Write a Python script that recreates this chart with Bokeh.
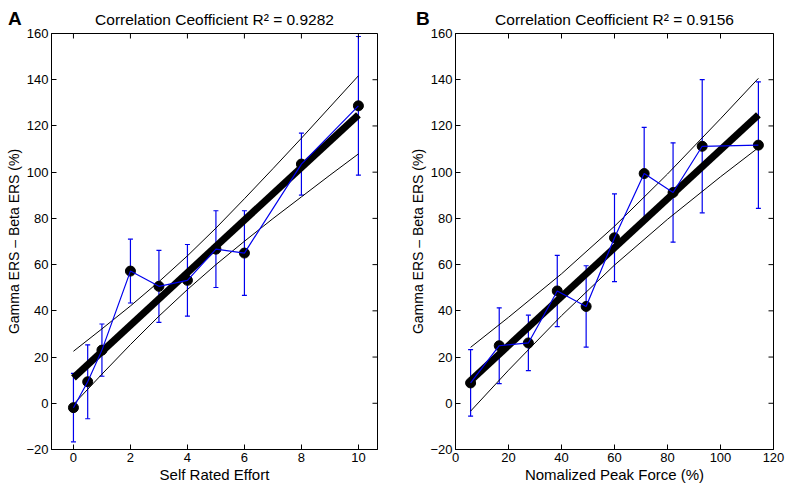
import math
from bokeh.plotting import figure
from bokeh.layouts import row
from bokeh.models import (FixedTicker, Range1d, Whisker, ColumnDataSource, TeeHead, Div)
from bokeh.embed import file_html
from bokeh.resources import INLINE

# ---------------- Panel A data ----------------
effort = [0, 0.5, 1, 2, 3, 4, 5, 6, 8, 10]
ers_a = [-1.9, 9.3, 23.0, 57.2, 50.6, 53.2, 66.7, 65.0, 103.5, 128.7]
err_a = [14.8, 16.0, 11.3, 13.8, 15.6, 15.5, 16.6, 18.3, 13.4, 30.0]
fit_a_x = [0, 10]
fit_a_y = [11.0, 124.8]
band_a_x = [0, 1, 2, 3, 4, 5, 6, 7, 8, 9, 10]
band_a_up = [22.5, 32.2, 42.1, 52.6, 63.8, 75.8, 88.5, 101.5, 114.7, 128.2, 141.7]
band_a_lo = [-0.5, 12.6, 25.4, 37.7, 49.2, 60.0, 70.1, 79.9, 89.3, 98.7, 107.9]
xticks_a = [0, 2, 4, 6, 8, 10]

# ---------------- Panel B data ----------------
force = [5.7, 16.5, 27.5, 38.4, 49.3, 60.0, 71.2, 82.1, 93.1, 114.3]
ers_b = [8.8, 24.9, 26.1, 48.6, 41.9, 71.6, 99.4, 91.2, 111.2, 111.7]
err_b = [14.4, 16.4, 12.0, 15.4, 17.6, 19.0, 20.0, 21.5, 28.8, 27.4]
fit_b_x = [5.7, 114.3]
fit_b_y = [9.8, 124.8]
band_b_x = [5.7, 20, 40, 60, 80, 100, 114.3]
band_b_up = [24.2, 37.2, 56.0, 76.6, 99.2, 123.1, 140.6]
band_b_lo = [-3.4, 14.3, 37.9, 59.8, 79.6, 98.0, 110.6]
xticks_b = [0, 20, 40, 60, 80, 100, 120]

yticks = [-20, 0, 20, 40, 60, 80, 100, 120, 140, 160]

FONT = "Liberation Sans"
BLUE = "#0000ee"
H = 486


def style_axis(ax, ticks):
    ax.ticker = FixedTicker(ticks=ticks)
    ax.major_tick_in = 5
    ax.major_tick_out = 0
    ax.minor_tick_line_color = None
    ax.axis_line_color = "black"
    ax.major_tick_line_color = "black"
    ax.major_label_text_font = FONT
    ax.major_label_text_font_size = "13px"
    ax.major_label_text_color = "black"
    ax.major_label_standoff = 3
    ax.major_label_overrides = {-20: "\u221220"}
    ax.axis_label_text_font = FONT
    ax.axis_label_text_font_style = "normal"
    ax.axis_label_text_color = "black"
    ax.axis_label_standoff = 1


def make_panel(title, xs, ys, errs, fx, fy, bx, bu, bl, xr, xticks, xlabel,
               width, left_b, right_b):
    p = figure(width=width, height=H, x_range=Range1d(*xr), y_range=Range1d(-20, 160),
               output_backend="svg", toolbar_location=None,
               min_border_left=left_b, min_border_right=right_b,
               min_border_top=33, min_border_bottom=H - 33 - 416, title=title)
    p.title.align = "center"
    p.title.text_font = FONT
    p.title.text_font_size = "15.5px"
    p.title.text_font_style = "normal"
    p.title.text_color = "black"
    p.title.standoff = 11
    p.grid.visible = False
    p.outline_line_color = "black"
    p.outline_line_alpha = 1

    style_axis(p.xaxis[0], xticks)
    style_axis(p.yaxis[0], yticks)
    p.xaxis.axis_label = xlabel
    p.yaxis.axis_label = "Gamma ERS \u2013 Beta ERS (%)"
    p.xaxis.axis_label_text_font_size = "15px"
    p.yaxis.axis_label_text_font_size = "14px"

    # inward tick marks on the top and right edges of the box (clipped to the frame)
    ymax = p.y_range.end
    xmax = p.x_range.end
    p.scatter(xticks, [ymax] * len(xticks), marker="dash", size=10, angle=math.pi / 2,
              line_color="black", line_width=1)
    p.scatter([xmax] * len(yticks), yticks, marker="dash", size=10,
              line_color="black", line_width=1)

    # confidence bands
    p.line(bx, bu, color="black", line_width=1)
    p.line(bx, bl, color="black", line_width=1)
    # regression line
    p.line(fx, fy, color="black", line_width=7)
    # points
    p.scatter(xs, ys, size=10, color="black")
    p.line(xs, ys, color=BLUE, line_width=1.2)
    src = ColumnDataSource(dict(x=xs,
                                hi=[y + e for y, e in zip(ys, errs)],
                                lo=[y - e for y, e in zip(ys, errs)]))
    w = Whisker(base="x", upper="hi", lower="lo", source=src, line_color=BLUE, line_width=1.2,
                upper_head=TeeHead(size=5, line_color=BLUE, line_width=1.2),
                lower_head=TeeHead(size=5, line_color=BLUE, line_width=1.2))
    p.add_layout(w)
    return p


WA = 405
pa = make_panel("Correlation Ceofficient R\u00b2 = 0.9282", effort, ers_a, err_a,
                fit_a_x, fit_a_y, band_a_x, band_a_up, band_a_lo, (-0.77, 10.67), xticks_a,
                "Self Rated Effort", WA, 51, WA - 51 - 326)
WB = 384
pb = make_panel("Correlation Ceofficient R\u00b2 = 0.9156", force, ers_b, err_b,
                fit_b_x, fit_b_y, band_b_x, band_b_up, band_b_lo, (0, 120), xticks_b,
                "Nomalized Peak Force (%)", WB, 455 - WA, WB - (455 - WA) - 318)


def letter(txt, left):
    return Div(text=txt, width=20, height=24,
               styles={"position": "absolute", "left": f"{left}px", "top": "4px",
                       "font-family": FONT, "font-size": "19px", "font-weight": "bold",
                       "line-height": "1", "color": "black", "z-index": "10"})


layout = row(pa, pb, letter("A", 3), letter("B", 411))
open("out.html", "w").write(file_html(layout, INLINE))
